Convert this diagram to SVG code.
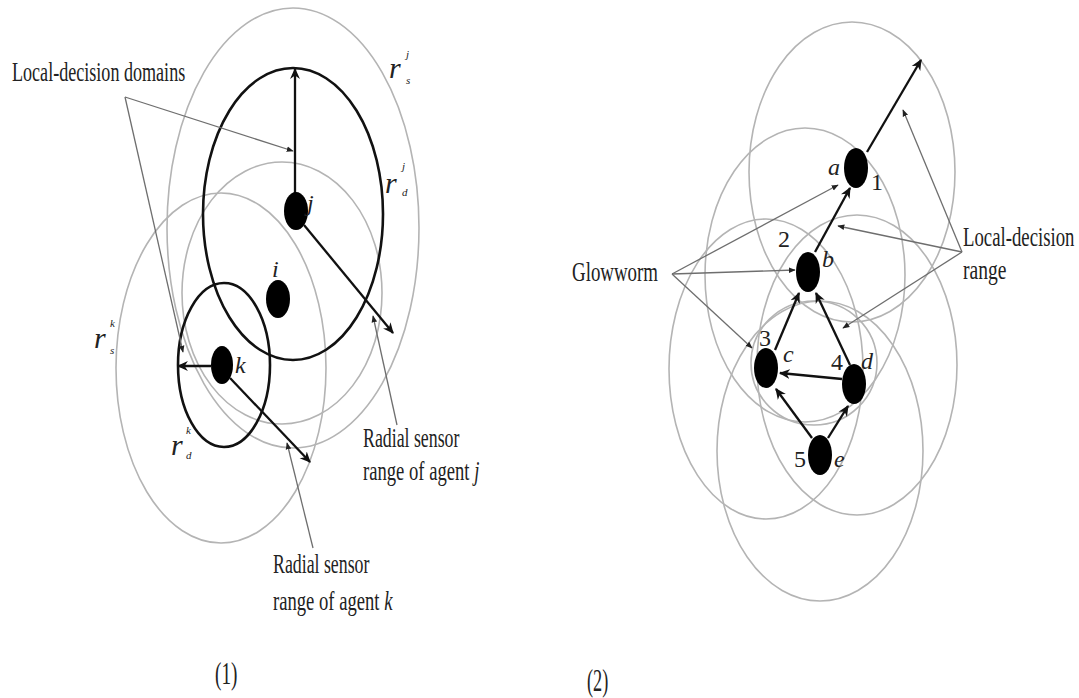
<svg xmlns="http://www.w3.org/2000/svg" width="1079" height="698" viewBox="0 0 1079 698">
<defs>
<style>
.rng{fill:none;stroke:#b4b4b4;stroke-width:1.6}
.dom{fill:none;stroke:#111;stroke-width:2.6}
.node{fill:#000}
.arr{stroke:#111;stroke-width:2.3;fill:none;marker-end:url(#ah)}
.ptra{stroke:#6e6e6e;stroke-width:1.3;fill:none;marker-end:url(#ph)}
.lbl{font-family:"Liberation Serif","Times New Roman",serif;fill:#222}
.it{font-family:"Liberation Serif","Times New Roman",serif;font-style:italic;fill:#222}
</style>
<marker id="ah" viewBox="0 0 10 10" refX="9" refY="5" markerWidth="11" markerHeight="11" markerUnits="userSpaceOnUse" orient="auto">
<path d="M0,0.5 L10,5 L0,9.5 L3,5 z" fill="#111"/>
</marker>
<marker id="ph" viewBox="0 0 10 10" refX="9" refY="5" markerWidth="7" markerHeight="7" markerUnits="userSpaceOnUse" orient="auto">
<path d="M0,1 L10,5 L0,9 z" fill="#222"/>
</marker>
</defs>
<rect width="1079" height="698" fill="#fff"/>

<g id="ranges-left">
<ellipse class="rng" cx="293" cy="228" rx="126" ry="220"/>
<ellipse class="rng" cx="282" cy="293" rx="100" ry="131"/>
<ellipse class="rng" cx="221" cy="368" rx="105" ry="175"/>
</g>
<g id="domains-left">
<ellipse class="dom" cx="293" cy="214" rx="90" ry="146"/>
<ellipse class="dom" cx="224" cy="365" rx="46" ry="82"/>
</g>

<g id="ranges-right">
<ellipse class="rng" cx="852" cy="172" rx="103" ry="150"/>
<ellipse class="rng" cx="805" cy="275" rx="100" ry="147"/>
<ellipse class="rng" cx="766" cy="369" rx="97" ry="150"/>
<ellipse class="rng" cx="857" cy="365" rx="100" ry="150"/>
<ellipse class="rng" cx="820" cy="451" rx="103" ry="150"/>
<ellipse class="rng" cx="814" cy="363" rx="63" ry="62"/>
</g>

<g id="connectors">
<line class="arr" x1="295" y1="193" x2="295" y2="69"/>
<line class="arr" x1="304" y1="225" x2="393" y2="333"/>
<line class="arr" x1="211" y1="366" x2="178" y2="366"/>
<line class="arr" x1="230" y1="378" x2="310" y2="462"/>
<line class="ptra" x1="125" y1="97" x2="293" y2="151"/>
<line class="ptra" x1="125" y1="97" x2="183" y2="352"/>
<line class="ptra" x1="397" y1="425" x2="373" y2="316"/>
<line class="ptra" x1="313" y1="548" x2="287" y2="443"/>

<line class="arr" x1="867" y1="152" x2="921" y2="60"/>
<line class="arr" x1="815" y1="252" x2="850" y2="188"/>
<line class="arr" x1="775" y1="350" x2="799" y2="293"/>
<line class="arr" x1="850" y1="365" x2="816" y2="293"/>
<line class="arr" x1="842" y1="379" x2="780" y2="373"/>
<line class="arr" x1="812" y1="438" x2="776" y2="389"/>
<line class="arr" x1="828" y1="438" x2="848" y2="406"/>
<line class="ptra" x1="672" y1="274" x2="838" y2="185"/>
<line class="ptra" x1="672" y1="274" x2="795" y2="270"/>
<line class="ptra" x1="672" y1="274" x2="752" y2="348"/>
<line class="ptra" x1="962" y1="252" x2="903" y2="110"/>
<line class="ptra" x1="962" y1="252" x2="838" y2="226"/>
<line class="ptra" x1="962" y1="252" x2="843" y2="328"/>
</g>

<g id="node-j">
<ellipse class="node" cx="296" cy="211" rx="12" ry="19"/>
<text class="it" x="307" y="211" font-size="24">j</text>
</g>
<g id="node-i">
<ellipse class="node" cx="278" cy="299" rx="12" ry="19"/>
<text class="it" x="272" y="277" font-size="24">i</text>
</g>
<g id="node-k">
<ellipse class="node" cx="222" cy="365" rx="11" ry="19"/>
<text class="it" x="235" y="373" font-size="24">k</text>
</g>

<g id="label-rsj">
<text class="it" font-size="30"><tspan x="389" y="78">r</tspan><tspan x="406" y="58" font-size="11">j</tspan><tspan x="406" y="84" font-size="11">s</tspan></text>
</g>
<g id="label-rdj">
<text class="it" font-size="30"><tspan x="385" y="193">r</tspan><tspan x="402" y="170" font-size="11">j</tspan><tspan x="402" y="196" font-size="11">d</tspan></text>
</g>
<g id="label-rsk">
<text class="it" font-size="30"><tspan x="94" y="348">r</tspan><tspan x="110" y="327" font-size="11">k</tspan><tspan x="110" y="354" font-size="11">s</tspan></text>
</g>
<g id="label-rdk">
<text class="it" font-size="30"><tspan x="171" y="455">r</tspan><tspan x="186" y="434" font-size="11">k</tspan><tspan x="186" y="459" font-size="11">d</tspan></text>
</g>

<g id="text-left">
<text class="lbl" transform="translate(12,81) scale(0.67,1)" font-size="27">Local-decision domains</text>
<text class="lbl" transform="translate(363,447) scale(0.66,1)" font-size="27">Radial sensor</text>
<text class="lbl" transform="translate(363,480) scale(0.69,1)" font-size="27">range of agent <tspan font-style="italic">j</tspan></text>
<text class="lbl" transform="translate(273,573) scale(0.66,1)" font-size="27">Radial sensor</text>
<text class="lbl" transform="translate(273,610) scale(0.69,1)" font-size="27">range of agent <tspan font-style="italic">k</tspan></text>
<text class="lbl" transform="translate(215,684) scale(0.6,1)" font-size="32">(1)</text>
</g>

<g id="node-a">
<ellipse class="node" cx="856" cy="168" rx="12" ry="20"/>
<text class="it" x="828" y="175" font-size="24">a</text>
<text class="lbl" x="871" y="190" font-size="24">1</text>
</g>
<g id="node-b">
<ellipse class="node" cx="808" cy="272" rx="12" ry="20"/>
<text class="it" x="822" y="267" font-size="24">b</text>
<text class="lbl" x="778" y="247" font-size="24">2</text>
</g>
<g id="node-c">
<ellipse class="node" cx="766" cy="368" rx="12" ry="20"/>
<text class="it" x="783" y="362" font-size="24">c</text>
<text class="lbl" x="759" y="346" font-size="24">3</text>
</g>
<g id="node-d">
<ellipse class="node" cx="854" cy="384" rx="12" ry="20"/>
<text class="it" x="861" y="369" font-size="24">d</text>
<text class="lbl" x="831" y="370" font-size="24">4</text>
</g>
<g id="node-e">
<ellipse class="node" cx="820" cy="455" rx="12" ry="20"/>
<text class="it" x="834" y="467" font-size="24">e</text>
<text class="lbl" x="794" y="467" font-size="24">5</text>
</g>

<g id="text-right">
<text class="lbl" transform="translate(572,281) scale(0.675,1)" font-size="28">Glowworm</text>
<text class="lbl" transform="translate(963,246) scale(0.67,1)" font-size="28">Local-decision</text>
<text class="lbl" transform="translate(963,279) scale(0.7,1)" font-size="28">range</text>
<text class="lbl" transform="translate(587,691) scale(0.57,1)" font-size="32">(2)</text>
</g>
</svg>
